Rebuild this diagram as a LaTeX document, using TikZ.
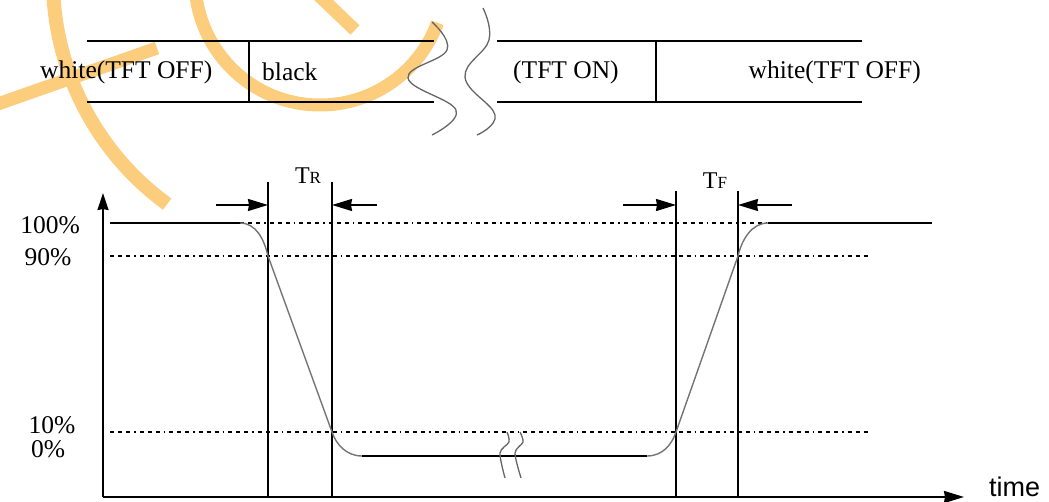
\documentclass[tikz,border=0pt]{standalone}
\usepackage{fontspec}
\setmainfont{Liberation Serif}
\newfontfamily\axisfont{Liberation Sans}
\usetikzlibrary{arrows.meta}
\definecolor{wmorange}{RGB}{252,205,125}
\tikzset{
  band/.style={line width=2pt},
  sig/.style={line width=1.4pt, color=gray!90!black},
  level/.style={line width=1.3pt, dash pattern=on 4pt off 4pt on 4pt off 4pt on 4pt off 4pt on 1.5pt off 4pt},
  marker/.style={line width=2pt},
  pointer/.style={line width=1.6pt, -{Stealth[length=20pt,width=12pt,inset=1pt]}},
  lbl/.style={font=\fontsize{25.5}{30}\selectfont, inner sep=0pt},
  brk/.style={line width=1.3pt, color=gray!80!black},
}
\begin{document}
\begin{tikzpicture}[x=1pt,y=1pt]
\useasboundingbox (0,0) rectangle (1049,501);
% Watermark strokes in the top left corner
\begin{scope}
  \clip (0,0) rectangle (1049,501);
  \draw[wmorange, line width=14pt] (330,521) ++(172:277) arc[start angle=172, end angle=234, radius=277];
  \draw[wmorange, line width=13pt] (320,521) ++(180:125) arc[start angle=180, end angle=340, radius=125];
  \draw[wmorange, line width=13pt] (-5,396) -- (157,453);
  \draw[wmorange, line width=13pt] (312,512) -- (355,471);
\end{scope}

% State bar on top
\foreach \xa/\xb in {87/434, 497/862} {
  \draw[band] (\xa,460) -- (\xb,460);
  \draw[band] (\xa,399) -- (\xb,399);
}
\foreach \x in {249, 656} {
  \draw[band] (\x,460) -- (\x,399);
}
\node[lbl, anchor=west] (off1) at (40,429) {white(TFT OFF)};
\node[lbl, anchor=west] (blk) at (262,429) {black};
\node[lbl, anchor=west] (ton) at (513,429) {(TFT ON)};
\node[lbl, anchor=east] (off2) at (921,429) {white(TFT OFF)};

% Break marks between the two halves
\draw[brk] plot[smooth, tension=0.7] coordinates {(432,479) (447,451) (408,423) (456,391) (432,366)};
\draw[brk] plot[smooth, tension=0.7] coordinates {(483,493) (489,461) (465,424) (495,386) (477,366)};

% Axes
\coordinate (o) at (103,4);
\coordinate (ytop) at (103,308);
\coordinate (xend) at (964,4);
\draw[marker, -{Stealth[length=17pt,width=11pt,inset=1pt]}] (o) -- (ytop);
\draw[marker, -{Stealth[length=20pt,width=12pt,inset=1pt]}] (o) -- (xend);
\node[anchor=base west, inner sep=0pt, font=\axisfont\fontsize{27}{32}\selectfont] (tlab) at (989,5) {time};

% Level labels
\foreach \y/\lab/\xx in {276/100/50, 244/90/48, 76/10/52, 52/0/48} {
  \node[lbl] (p\lab) at (\xx,\y) {\lab\%};
}

% Reference levels
\draw[level] (240,278) -- (768,278);
\draw[level] (110,245) -- (868,245);
\draw[level] (110,69) -- (869,69);

% Time markers and their pointers
\foreach \x/\t in {268/319, 332/319, 676/310, 738/310} {
  \draw[marker] (\x,4) -- (\x,\t);
}
\foreach \xa/\xb in {216/268, 377/332, 623/676, 792/738} {
  \draw[pointer] (\xa,296) -- (\xb,296);
}
\node[inner sep=0pt] (tr) at (308,325) {\fontsize{24}{28}\selectfont T\fontsize{17}{20}\selectfont R};
\node[inner sep=0pt] (tf) at (715,320) {\fontsize{24}{28}\selectfont T\fontsize{17}{20}\selectfont F};

% Optical response
\draw[marker] (110,278) -- (240,278);
\draw[sig] (240,278) .. controls (256,278) and (264,262) .. (268,245) -- (332,69)
  .. controls (336,57) and (346,45) .. (362,45);
\draw[marker] (362,45) -- (647,45);
\draw[sig] (647,45) .. controls (663,45) and (672,57) .. (676,69) -- (738,245)
  .. controls (742,262) and (752,278) .. (768,278);
\draw[marker] (768,278) -- (932,278);

% Break marks on the low level
\draw[brk] plot[smooth] coordinates {(507,69) (509,59) (500,48) (505,23)};
\draw[brk] plot[smooth] coordinates {(520,69) (523,59) (515,48) (521,23)};
\end{tikzpicture}
\end{document}
